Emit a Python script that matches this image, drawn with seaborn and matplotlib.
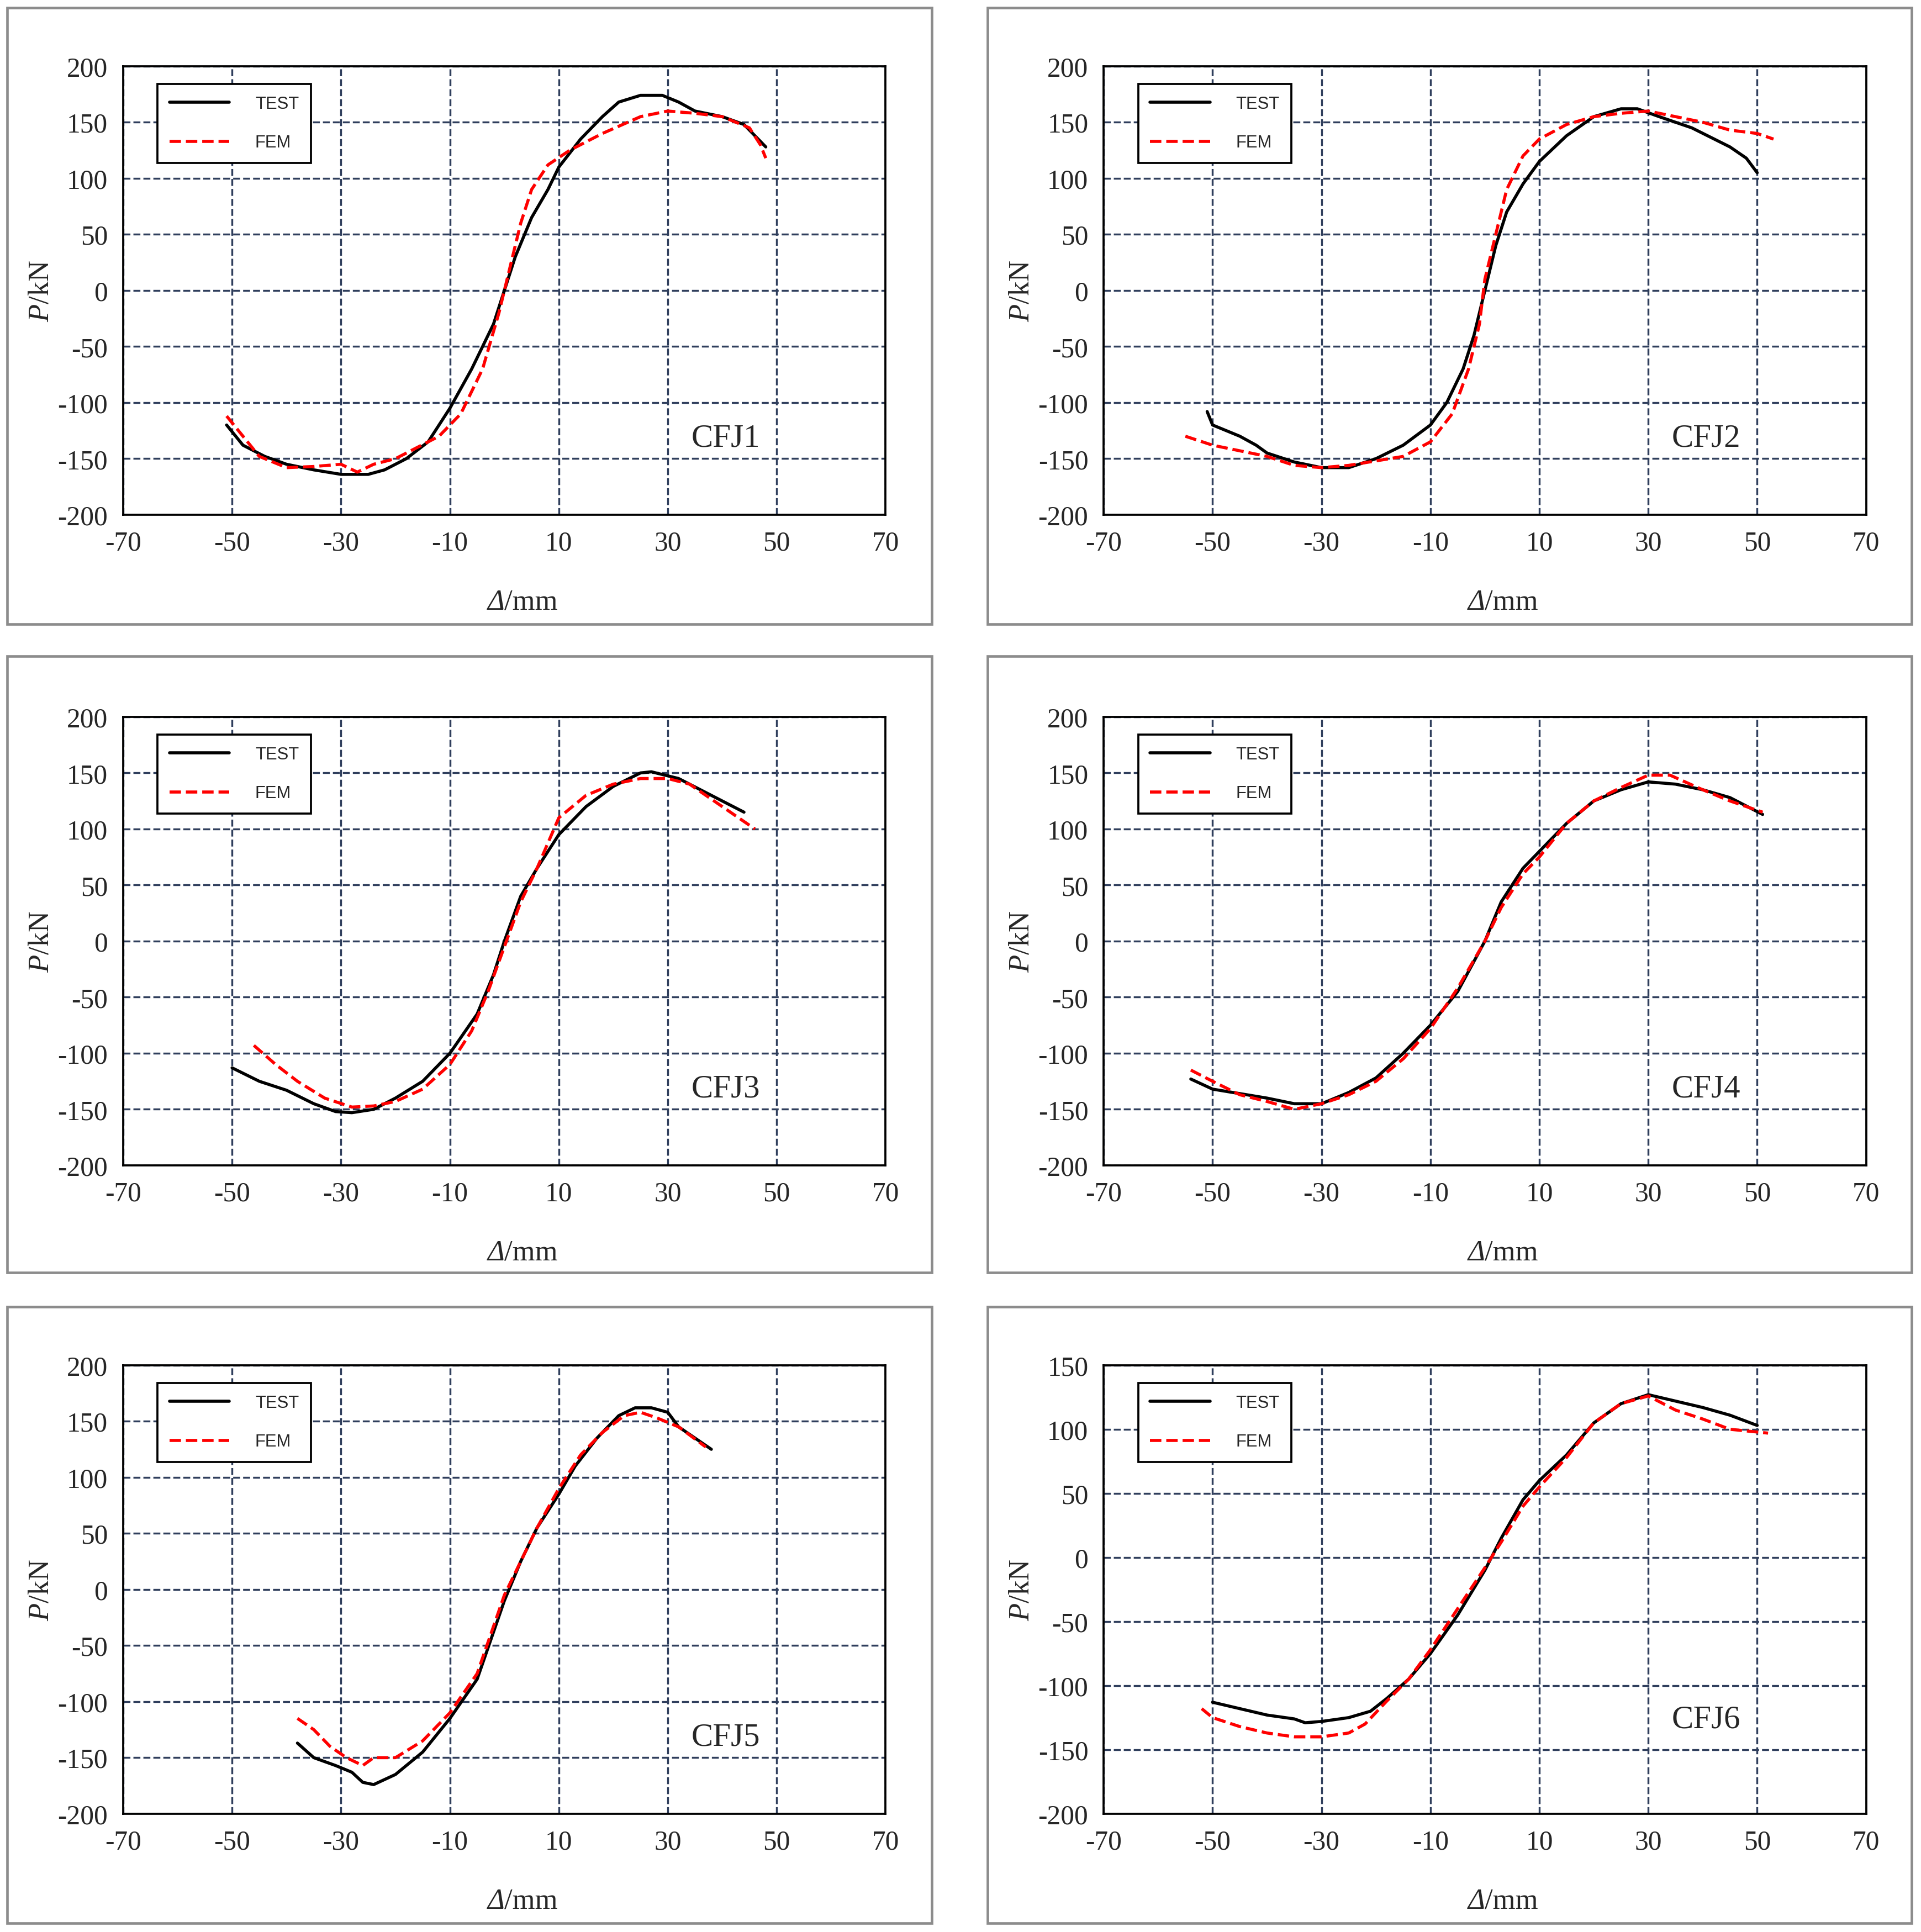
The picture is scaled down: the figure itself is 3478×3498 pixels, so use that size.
import numpy as np
import pandas as pd
import seaborn as sns
import matplotlib.pyplot as plt
from matplotlib.patches import Rectangle

sns.set_theme()
sns.set_style('ticks')
plt.rcParams['font.family'] = ['Liberation Serif', 'DejaVu Serif']
plt.rcParams['mathtext.fontset'] = 'custom'
plt.rcParams['mathtext.rm'] = 'Liberation Serif'
plt.rcParams['mathtext.it'] = 'Liberation Serif:italic'
plt.rcParams['axes.unicode_minus'] = False

names = ['CFJ1', 'CFJ2', 'CFJ3', 'CFJ4', 'CFJ5', 'CFJ6']

cfj1_test = [(-51,-120),(-48,-138),(-44,-148),(-40,-155),(-35,-160),(-30,-164),(-25,-164),(-22,-160),(-18,-150),(-14,-135),(-10,-105),(-6,-70),(-2,-30),(0,0),(2,30),(5,65),(8,90),(10,110),(14,135),(18,155),(21,168),(25,174),(29,174),(32,168),(35,160),(40,155),(44,148),(48,128)]
cfj1_fem = [(-51,-112),(-48,-130),(-45,-148),(-40,-158),(-35,-157),(-30,-155),(-27,-162),(-24,-155),(-20,-150),(-16,-140),(-12,-130),(-8,-110),(-4,-70),(-1,-20),(1,20),(3,60),(5,90),(8,112),(12,125),(18,140),(25,155),(30,160),(35,158),(40,155),(45,145),(47,130),(48,118)]
cfj2_test = [(-51,-108),(-50,-120),(-45,-130),(-42,-138),(-40,-145),(-35,-153),(-30,-158),(-25,-158),(-20,-150),(-15,-138),(-10,-120),(-7,-100),(-4,-70),(-2,-40),(0,0),(2,40),(4,70),(7,95),(10,115),(15,138),(20,155),(25,162),(28,162),(32,155),(38,145),(45,128),(48,118),(50,105)]
cfj2_fem = [(-55,-130),(-50,-138),(-45,-143),(-40,-148),(-35,-156),(-30,-158),(-25,-156),(-20,-152),(-15,-148),(-10,-135),(-6,-110),(-3,-70),(-1,-30),(0,10),(2,50),(4,90),(7,120),(10,135),(15,148),(20,155),(25,158),(30,160),(35,155),(40,150),(45,143),(50,140),(53,135)]
cfj3_test = [(-50,-113),(-45,-125),(-40,-133),(-35,-145),(-31,-152),(-28,-153),(-24,-150),(-20,-140),(-15,-125),(-10,-100),(-5,-65),(-2,-30),(0,0),(3,40),(6,65),(10,95),(15,120),(20,138),(25,150),(27,151),(32,145),(38,130),(44,115)]
cfj3_fem = [(-46,-93),(-42,-110),(-38,-125),(-33,-140),(-28,-148),(-24,-147),(-20,-143),(-15,-132),(-10,-110),(-6,-80),(-3,-45),(0,-5),(3,35),(6,65),(10,110),(15,130),(20,140),(25,145),(30,145),(34,140),(40,120),(46,100)]
cfj4_test = [(-54,-123),(-50,-132),(-45,-136),(-40,-140),(-35,-145),(-30,-145),(-25,-135),(-20,-122),(-15,-100),(-10,-75),(-5,-45),(0,0),(3,35),(7,65),(10,80),(15,105),(20,125),(25,135),(30,142),(35,140),(40,135),(45,128),(51,113)]
cfj4_fem = [(-54,-115),(-50,-125),(-45,-137),(-40,-143),(-35,-150),(-30,-145),(-25,-137),(-20,-125),(-15,-105),(-10,-78),(-5,-42),(0,0),(3,30),(7,60),(10,75),(15,105),(20,125),(25,137),(30,148),(34,148),(40,135),(45,125),(51,115)]
cfj5_test = [(-38,-137),(-35,-150),(-31,-157),(-28,-163),(-26,-172),(-24,-174),(-20,-165),(-15,-145),(-10,-115),(-5,-80),(0,-10),(3,25),(6,55),(10,85),(13,110),(17,135),(21,155),(24,162),(27,162),(30,158),(32,145),(35,135),(38,125)]
cfj5_fem = [(-38,-115),(-35,-125),(-32,-140),(-29,-150),(-26,-157),(-24,-150),(-20,-150),(-15,-135),(-10,-110),(-5,-75),(0,-5),(3,25),(6,55),(10,90),(14,120),(18,140),(22,155),(25,158),(28,153),(32,145),(37,127)]
cfj6_test = [(-50,-113),(-45,-118),(-40,-123),(-35,-126),(-33,-129),(-30,-128),(-25,-125),(-21,-120),(-18,-110),(-14,-95),(-10,-75),(-5,-45),(0,-10),(3,15),(7,45),(10,60),(15,80),(20,105),(25,120),(30,127),(35,122),(40,117),(45,111),(50,103)]
cfj6_fem = [(-52,-118),(-50,-125),(-45,-132),(-40,-137),(-35,-140),(-30,-140),(-25,-137),(-22,-130),(-18,-112),(-14,-95),(-10,-72),(-5,-40),(0,-8),(3,12),(7,40),(10,55),(15,78),(20,105),(25,120),(30,126),(35,115),(40,108),(45,100),(52,97)]

tests = [cfj1_test, cfj2_test, cfj3_test, cfj4_test, cfj5_test, cfj6_test]
fems = [cfj1_fem, cfj2_fem, cfj3_fem, cfj4_fem, cfj5_fem, cfj6_fem]
ylims = [(-200, 200)] * 5 + [(-200, 150)]
label_y = [0.17, 0.17, 0.17, 0.17, 0.17, 0.21]

fig = plt.figure(figsize=(15.6, 15.69), dpi=223)

box_x = [0.0038, 0.514]
box_y = [0.6767, 0.3412, 0.0045]
ax_x = [0.0641, 0.5744]
ax_y = [0.7334, 0.3967, 0.0612]

for i in range(6):
    r, c = i // 2, i % 2
    fig.patches.append(Rectangle((box_x[c], box_y[r]), 0.481, 0.319, transform=fig.transFigure,
                                 fill=False, edgecolor='#8c8c8c', linewidth=1.5))
    ax = fig.add_axes([ax_x[c], ax_y[r], 0.3968, 0.2321])
    t = pd.DataFrame(tests[i], columns=['d', 'p'])
    f = pd.DataFrame(fems[i], columns=['d', 'p'])
    sns.lineplot(data=t, x='d', y='p', sort=False, color='black', lw=1.8, ax=ax, label='TEST')
    sns.lineplot(data=f, x='d', y='p', sort=False, color='red', lw=1.8, ls='--', ax=ax, label='FEM')
    ax.set_xlim(-70, 70)
    ax.set_xticks(np.arange(-70, 71, 20))
    lo, hi = ylims[i]
    ax.set_ylim(lo, hi)
    ax.set_yticks(np.arange(lo, hi + 1, 50))
    ax.grid(True, ls='--', color='#2f3e5c', lw=1.1)
    ax.tick_params(labelsize=16, length=0, pad=9)
    for s in ax.spines.values():
        s.set_color('black')
        s.set_linewidth(1.2)
    ax.set_xlabel('')
    ax.text(0.5, -0.165, 'Δ', transform=ax.transAxes, fontsize=17, style='italic', ha='right', va='top')
    ax.text(0.5, -0.165, '/mm', transform=ax.transAxes, fontsize=17, ha='left', va='top')
    ax.set_ylabel(r'$\it{P}$/kN', fontsize=17, labelpad=2)
    ax.text(0.79, label_y[i], names[i], transform=ax.transAxes, fontsize=19, ha='center', va='center')
    leg = ax.legend(loc='upper left', bbox_to_anchor=(0.034, 0.98), fancybox=False, edgecolor='black',
                    framealpha=1, handlelength=3.5, labelspacing=1.3, borderpad=0.7, handletextpad=1.5,
                    prop={'family': 'Liberation Sans', 'size': 10})
    leg.get_frame().set_linewidth(1.2)

fig.savefig('out.png', dpi=223)
